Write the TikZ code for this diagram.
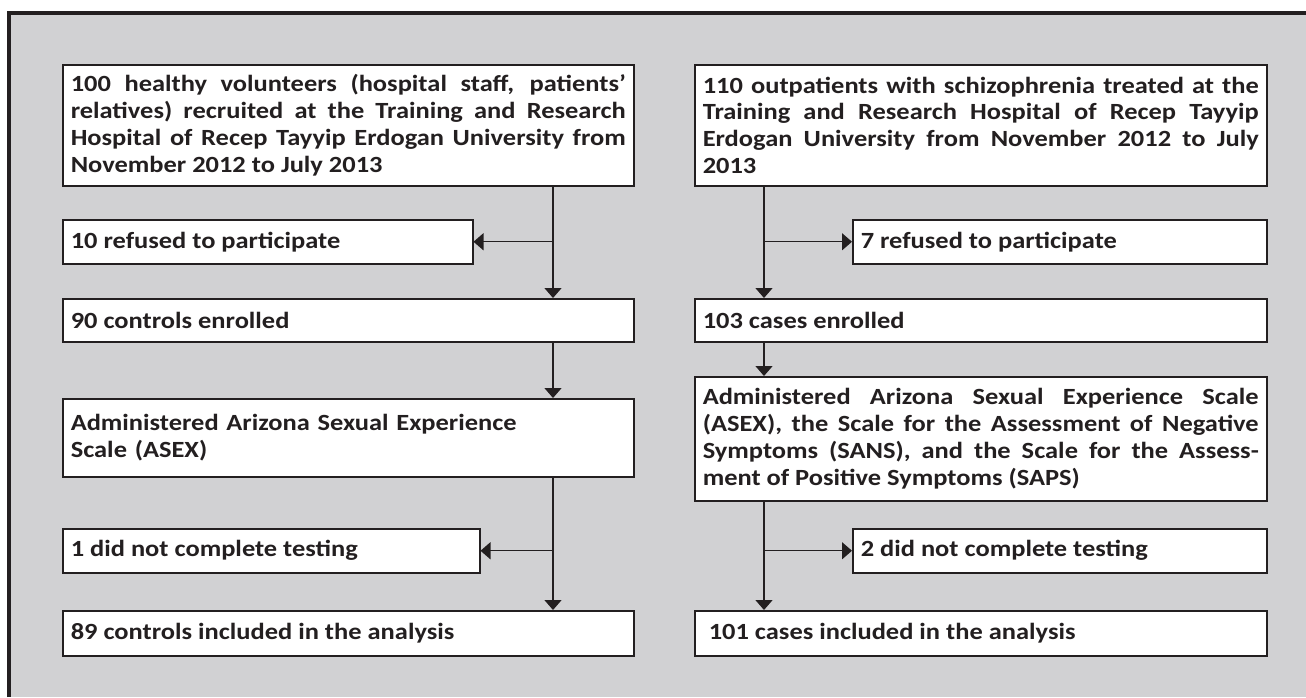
\documentclass[tikz,border=0pt]{standalone}
\usepackage{fontspec}
\setmainfont{Carlito}[FakeStretch=1.14]
\usetikzlibrary{arrows.meta}
\definecolor{bg}{RGB}{209,209,211}
\definecolor{ink}{RGB}{35,31,32}
\tolerance=10000
\hyphenpenalty=10000
\begin{document}
\begin{tikzpicture}[x=1pt,y=-1pt,
  box/.style={draw=ink, line width=1.5pt, fill=white, rectangle, anchor=north west,
    inner xsep=8pt, inner ysep=0pt, text=ink, align=justify,
    font=\fontsize{23.2}{26.8}\selectfont\bfseries},
  arr/.style={draw=ink, line width=1.4pt, -{Triangle[width=17pt,length=10pt]}},
]
\useasboundingbox (0,0) rectangle (1306,697);
\fill[bg] (9,13) rectangle (1306,697);
\draw[ink, line width=4.3pt] (9,697) -- (9,13) -- (1306,13);

% left column
\node[box, text width=555pt, minimum height=121pt] (tl) at (62,64)
  {100 healthy volunteers (hospital staff, patients’\linebreak relatives) recruited at the Training and Research\linebreak Hospital of Recep Tayyip Erdogan University from\linebreak November 2012 to July 2013};
\node[box, text width=394pt, minimum height=44pt] (l10) at (62,219)
  {10 refused to participate};
\node[box, text width=555pt, minimum height=43pt] (l90) at (62,298)
  {90 controls enrolled};
\node[box, text width=555pt, minimum height=78pt, align=left] (lasex) at (62,398)
  {Administered Arizona Sexual Experience\\Scale (ASEX)};
\node[box, text width=401pt, minimum height=44pt] (l1) at (62,528)
  {1 did not complete testing};
\node[box, text width=555pt, minimum height=45pt] (l89) at (62,610)
  {89 controls included in the analysis};

% right column
\node[box, text width=556pt, minimum height=121pt] (tr) at (694,64)
  {110 outpatients with schizophrenia treated at the\linebreak Training and Research Hospital of Recep Tayyip\linebreak Erdogan University from November 2012 to July\linebreak 2013};
\node[box, text width=398pt, minimum height=44pt] (r7) at (852,219)
  {7 refused to participate};
\node[box, text width=556pt, minimum height=43pt] (r103) at (694,298)
  {103 cases enrolled};
\node[box, text width=556pt, minimum height=124pt] (radm) at (694,376)
  {Administered Arizona Sexual Experience Scale\linebreak (ASEX), the Scale for the Assessment of Negative\linebreak Symptoms (SANS), and the Scale for the Assess-\linebreak ment of Positive Symptoms (SAPS)};
\node[box, text width=398pt, minimum height=44pt] (r2) at (852,528)
  {2 did not complete testing};
\node[box, text width=556pt, minimum height=45pt] (r101) at (694,610)
  {\hspace{6pt}101 cases included in the analysis};

% spines
\coordinate (lx) at (553,0);
\coordinate (rx) at (764,0);

\draw[arr] (tl.south -| lx) -- (l90.north -| lx);
\draw[arr] (l10.east -| lx) -- (l10.east);
\draw[arr] (l90.south -| lx) -- (lasex.north -| lx);
\draw[arr] (lasex.south -| lx) -- (l89.north -| lx);
\draw[arr] (l1.east -| lx) -- (l1.east);

\draw[arr] (tr.south -| rx) -- (r103.north -| rx);
\draw[arr] (r7.west -| rx) -- (r7.west);
\draw[arr] (r103.south -| rx) -- (radm.north -| rx);
\draw[arr] (radm.south -| rx) -- (r101.north -| rx);
\draw[arr] (r2.west -| rx) -- (r2.west);
\end{tikzpicture}
\end{document}
